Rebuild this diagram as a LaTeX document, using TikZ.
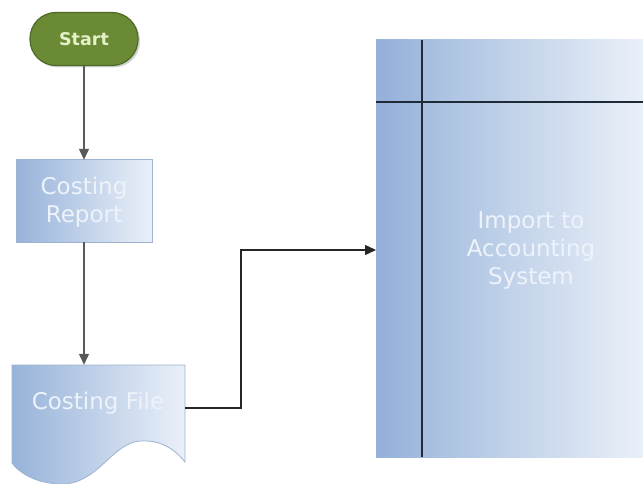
\documentclass[tikz,border=0pt]{standalone}
\usepackage{fontspec}
\setmainfont{DejaVu Sans}
\usetikzlibrary{arrows.meta,shadows}
\definecolor{blueL}{HTML}{97B3D9}
\definecolor{blueR}{HTML}{EAF0F9}
\definecolor{edgeB}{HTML}{9DB3CF}
\definecolor{termG}{HTML}{6A8A36}
\definecolor{termE}{HTML}{4E6A26}
\definecolor{termT}{HTML}{E4F2C8}
\definecolor{txtW}{HTML}{EEF3FB}
\definecolor{lineD}{HTML}{1E2A36}
\tikzset{
  conn/.style={line width=1.3pt, draw=black!75, -{Triangle[length=11pt,width=10pt]}},
  lbl/.style={text=txtW, font=\fontsize{23}{28}\selectfont, align=center},
}
\begin{document}
\begin{tikzpicture}[x=1pt,y=-1pt]
\useasboundingbox (0,0) rectangle (643,484);
% Start terminator
\node[draw=termE, line width=1.2pt, fill=termG, rounded corners=26pt,
      minimum width=108pt, minimum height=53pt, inner sep=0pt,
      drop shadow={shadow xshift=2pt, shadow yshift=-2pt, opacity=0.35},
      text=termT, font=\bfseries\fontsize{17.5}{20}\selectfont] (start) at (84,39) {Start};
% Costing Report
\path[left color=blueL, right color=blueR, draw=edgeB, line width=1pt]
  (16,160) rectangle (152,242);
\node[minimum width=136pt, minimum height=82pt, inner sep=0pt] (report) at (84,201) {};
\node[lbl] at (84,202) {Costing\\Report};
% Costing File (document)
\path[left color=blueL, right color=blueR, draw=edgeB, line width=0.8pt]
  (12,365) -- (185,365) -- (185,462)
  .. controls (172,446) and (158,440) .. (140,441)
  .. controls (112,443) and (98,484) .. (62,484)
  .. controls (38,484) and (20,474) .. (12,463) -- cycle;
\node[minimum width=173pt, minimum height=86pt, inner sep=0pt] (file) at (98.5,408) {};
\node[lbl] at (98,403) {Costing File};
% Import to Accounting System (swimlane)
\path[left color=blueL, right color=blueR] (376,40) rectangle (643,457);
\fill[blueL!85!blue, opacity=0.08] (376,40) rectangle (422,457);
\draw[lineD, line width=1.6pt] (422,40) -- (422,457);
\draw[lineD, line width=1.6pt] (376,102) -- (643,102);
\node[minimum width=267pt, minimum height=417pt, inner sep=0pt] (imp) at (509.5,248.5) {};
\node[lbl] at (531,251) {Import to\\Accounting\\System};
% connectors
\coordinate (c1) at (241,408);
\coordinate (c2) at (241,250);
\coordinate (c3) at (376,250);
\draw[conn, draw=black!65] (start.south) -- (report.north);
\draw[conn, draw=black!65] (report.south) -- (report.south |- file.north);
\draw[conn, draw=black!85] (file.east) -- (c1) -- (c2) -- (c3);
\end{tikzpicture}
\end{document}
